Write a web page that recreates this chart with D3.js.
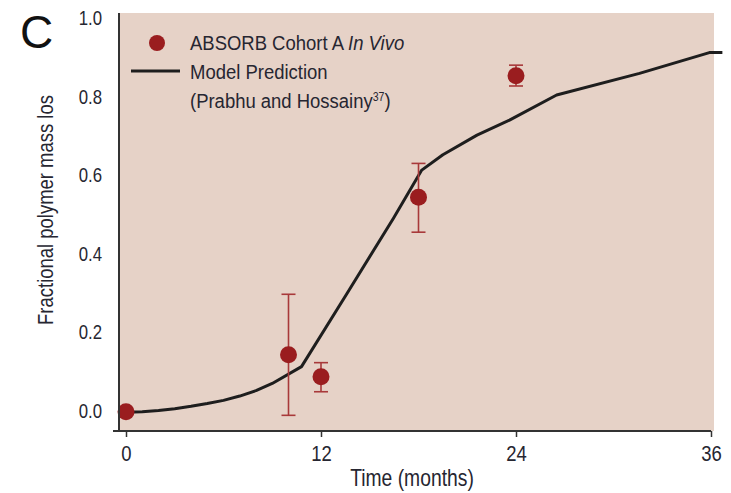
<!DOCTYPE html>
<html>
<head>
<meta charset="utf-8">
<script src="https://cdn.jsdelivr.net/npm/d3@7"></script>
<style>
  body { margin: 0; background: #fff; }
  svg { display: block; }
  .cond { font-family: "Liberation Sans", Arial, sans-serif; fill: #262631; }
</style>
</head>
<body>
<svg id="chart" width="731" height="493"></svg>
<script>
// observed data (months, fractional mass loss, error bar low / high)
var obsMonths = [0, 10, 12, 18, 24];
var obsValues = [-0.002, 0.143, 0.087, 0.544, 0.853];
var obsLow = [null, -0.011, 0.049, 0.455, 0.827];
var obsHigh = [null, 0.297, 0.123, 0.630, 0.880];

// model prediction curve
var modelMonths = [0, 1, 2, 3, 4, 5, 6, 7, 8, 9, 10.8, 13.6, 16.45, 18.2, 19.5, 21.6, 23.6, 26.5, 31.6, 35.9, 36.7];
var modelValues = [-0.003, -0.002, 0.001, 0.006, 0.012, 0.019, 0.027, 0.038, 0.052, 0.070, 0.113, 0.299, 0.49, 0.613, 0.652, 0.702, 0.740, 0.804, 0.859, 0.912, 0.912];

var xTicks = [0, 12, 24, 36];
var yTicks = [0, 0.2, 0.4, 0.6, 0.8, 1.0];

var svg = d3.select("#chart");
var red = "#9a1d1f";
var sx = 0.84; // squeeze to mimic the condensed face

var x = d3.scaleLinear().domain([0, 36]).range([126, 711]);
var y = d3.scaleLinear().domain([0, 1]).range([411, 18]);

var plotLeft = 119, plotBottom = 431, plotTop = 13, plotRight = 714;

// panel background
svg.append("rect")
  .attr("x", plotLeft).attr("y", plotTop)
  .attr("width", plotRight - plotLeft).attr("height", plotBottom - plotTop)
  .attr("fill", "#e6d2c7");

// model line
var line = d3.line()
  .x(function(d) { return x(d[0]); })
  .y(function(d) { return y(d[1]); });

svg.append("path")
  .datum(d3.zip(modelMonths, modelValues))
  .attr("d", line)
  .attr("fill", "none")
  .attr("stroke", "#1e1e1e")
  .attr("stroke-width", 3)
  .attr("stroke-linejoin", "round");

// error bars
var obs = obsMonths.map(function(m, i) {
  return { m: m, v: obsValues[i], lo: obsLow[i], hi: obsHigh[i] };
});
var withErr = obs.filter(function(d) { return d.lo !== null; });
var errG = svg.append("g").attr("stroke", "#a8393a").attr("stroke-width", 1.6);

errG.selectAll(".stem").data(withErr).enter().append("line")
  .attr("x1", function(d) { return x(d.m); }).attr("x2", function(d) { return x(d.m); })
  .attr("y1", function(d) { return y(d.lo); }).attr("y2", function(d) { return y(d.hi); });

errG.selectAll(".capHi").data(withErr).enter().append("line")
  .attr("x1", function(d) { return x(d.m) - 7; }).attr("x2", function(d) { return x(d.m) + 7; })
  .attr("y1", function(d) { return y(d.hi); }).attr("y2", function(d) { return y(d.hi); });

errG.selectAll(".capLo").data(withErr).enter().append("line")
  .attr("x1", function(d) { return x(d.m) - 7; }).attr("x2", function(d) { return x(d.m) + 7; })
  .attr("y1", function(d) { return y(d.lo); }).attr("y2", function(d) { return y(d.lo); });

// points
svg.selectAll(".pt").data(obs).enter().append("circle")
  .attr("cx", function(d) { return x(d.m); })
  .attr("cy", function(d) { return y(d.v); })
  .attr("r", 8.5)
  .attr("fill", red);

// axes
var xAxis = svg.append("g")
  .attr("transform", "translate(0," + plotBottom + ")")
  .call(d3.axisBottom(x).tickValues(xTicks).tickSize(6).tickPadding(8));
xAxis.select(".domain").remove();
xAxis.selectAll("line").attr("stroke", "#333").attr("stroke-width", 1.5);
xAxis.selectAll("text").attr("class", "cond").attr("font-size", 22)
  .attr("transform", "scale(" + sx + ",1)");

var yAxis = svg.append("g")
  .attr("transform", "translate(" + plotLeft + ",0)")
  .call(d3.axisLeft(y).tickValues(yTicks).tickFormat(d3.format(".1f")).tickSize(0));
yAxis.select(".domain").remove();
yAxis.selectAll("text").attr("class", "cond").attr("font-size", 20)
  .attr("x", -17 / sx)
  .attr("transform", "scale(" + sx + ",1)");

svg.append("line")
  .attr("x1", 113).attr("x2", x(36)).attr("y1", plotBottom).attr("y2", plotBottom)
  .attr("stroke", "#333").attr("stroke-width", 2);
svg.append("line")
  .attr("x1", plotLeft).attr("x2", plotLeft).attr("y1", plotTop).attr("y2", plotBottom)
  .attr("stroke", "#333").attr("stroke-width", 2);

// axis titles
svg.append("text").attr("class", "cond")
  .attr("transform", "translate(412,486) scale(" + sx + ",1)")
  .attr("text-anchor", "middle").attr("font-size", 23)
  .text("Time (months)");

svg.append("text").attr("class", "cond")
  .attr("transform", "translate(53,210) rotate(-90) scale(" + sx + ",1)")
  .attr("text-anchor", "middle").attr("font-size", 22)
  .text("Fractional polymer mass los");

// panel letter
svg.append("text")
  .attr("x", 20).attr("y", 48)
  .attr("font-family", "Liberation Sans, Arial, sans-serif")
  .attr("font-size", 46).attr("fill", "#111")
  .text("C");

// legend
var leg = svg.append("g");
leg.append("circle").attr("cx", 157).attr("cy", 43).attr("r", 8).attr("fill", red);
leg.append("line").attr("x1", 131).attr("x2", 180).attr("y1", 71).attr("y2", 71)
  .attr("stroke", "#1e1e1e").attr("stroke-width", 3);

var lsx = 0.88;
var t1 = leg.append("text").attr("class", "cond").attr("font-size", 21)
  .attr("transform", "translate(190,50) scale(" + lsx + ",1)");
t1.append("tspan").text("ABSORB Cohort A ");
t1.append("tspan").attr("font-style", "italic").text("In Vivo");

leg.append("text").attr("class", "cond").attr("font-size", 21)
  .attr("transform", "translate(190,79) scale(" + lsx + ",1)")
  .text("Model Prediction");

var t3 = leg.append("text").attr("class", "cond").attr("font-size", 21)
  .attr("transform", "translate(190,108) scale(" + lsx + ",1)");
t3.append("tspan").text("(Prabhu and Hossainy");
t3.append("tspan").attr("font-size", 12).attr("dy", -7).text("37");
t3.append("tspan").attr("dy", 7).text(")");
</script>
</body>
</html>
